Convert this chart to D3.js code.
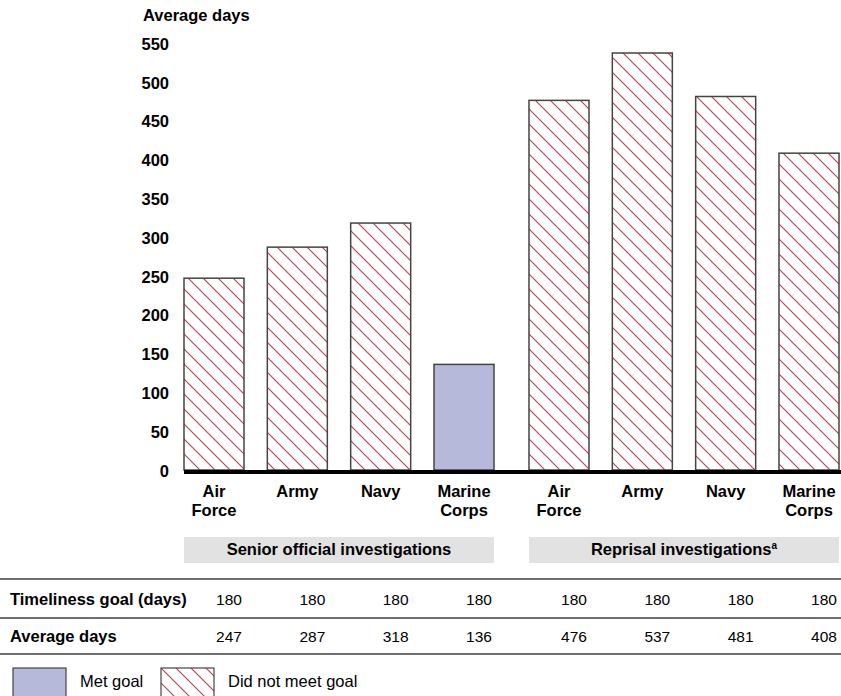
<!DOCTYPE html>
<html>
<head>
<meta charset="utf-8">
<title>Average days to complete investigations</title>
<style>
  body { margin: 0; background: #fff; }
  svg text { font-family: "Liberation Sans", Arial, sans-serif; }
</style>
</head>
<body>
<div id="chart"></div>

<script src="https://cdn.jsdelivr.net/npm/d3@7"></script>
<script>
// data
const groups = ["Senior official investigations", "Reprisal investigations"];
const services = ["Air Force", "Army", "Navy", "Marine Corps"];
const seniorDays = [247, 287, 318, 136];
const reprisalDays = [476, 537, 481, 408];
const seniorGoal = [180, 180, 180, 180];
const reprisalGoal = [180, 180, 180, 180];
const yTicks = [0, 50, 100, 150, 200, 250, 300, 350, 400, 450, 500, 550];

const W = 841, H = 696;
const BOLD = 16.5;

// flat rows, one per bar
const rows = [];
groups.forEach(function(g, gi) {
	const vals = gi === 0 ? seniorDays : reprisalDays;
	const goals = gi === 0 ? seniorGoal : reprisalGoal;
	services.forEach(function(s, i) {
		rows.push({ group: g, service: s, days: vals[i], goal: goals[i] });
	});
});

const svg = d3.select("#chart").append("svg")
	.attr("width", W)
	.attr("height", H);

// hatch pattern for "did not meet goal"
const defs = svg.append("defs");
defs.append("pattern")
	.attr("id", "hatch")
	.attr("patternUnits", "userSpaceOnUse")
	.attr("width", 15).attr("height", 15)
	.append("path")
	.attr("d", "M0,0L15,15M-4,11L4,19M11,-4L19,4")
	.attr("stroke", "#b8404f")
	.attr("stroke-width", 1.1)
	.attr("fill", "none");

//
// scales
//
const x0 = d3.scaleBand()
	.domain(groups)
	.range([184, 839])
	.paddingInner(0.1014);

const x1 = d3.scaleBand()
	.domain(services)
	.range([0, x0.bandwidth()])
	.paddingInner(0.28);

const y = d3.scaleLinear()
	.domain([0, 537])
	.range([470, 53]);

const barX = d => x0(d.group) + x1(d.service);
const barMid = d => barX(d) + x1.bandwidth() / 2;

// y axis title + labels
svg.append("text")
	.attr("x", 143).attr("y", 21)
	.attr("font-size", BOLD).attr("font-weight", "bold")
	.text("Average days");

const yAxis = d3.axisLeft(y).tickValues(yTicks).tickSize(0).tickPadding(0);
const yg = svg.append("g")
	.attr("transform", "translate(169,1)")
	.call(yAxis);
yg.select(".domain").remove();
yg.selectAll("text")
	.attr("font-size", BOLD)
	.attr("font-weight", "bold")
	.attr("fill", "#000")
	.style("font-family", "'Liberation Sans', Arial, sans-serif");

// bars
svg.selectAll("rect.bar")
	.data(rows)
	.join("rect")
	.attr("class", "bar")
	.attr("x", barX)
	.attr("width", x1.bandwidth())
	.attr("y", d => y(d.days))
	.attr("height", d => y(0) - y(d.days))
	.attr("fill", d => d.days <= d.goal ? "#b6b9d9" : "url(#hatch)")
	.attr("stroke", "#444")
	.attr("stroke-width", 1.5);

// baseline
svg.append("line")
	.attr("x1", x0(groups[0])).attr("x2", W)
	.attr("y1", y(0) + 2).attr("y2", y(0) + 2)
	.attr("stroke", "#000")
	.attr("stroke-width", 4);

// category labels
const cat = svg.selectAll("text.cat")
	.data(rows)
	.join("text")
	.attr("class", "cat")
	.attr("text-anchor", "middle")
	.attr("font-size", BOLD)
	.attr("font-weight", "bold")
	.attr("transform", d => "translate(" + barMid(d) + ",497)");
cat.selectAll("tspan")
	.data(d => d.service === "Army" || d.service === "Navy" ? [d.service] : d.service.split(" "))
	.join("tspan")
	.attr("x", 0)
	.attr("dy", (d, i) => i === 0 ? 0 : 19)
	.text(d => d);

// group bands
const band = svg.selectAll("g.band")
	.data(groups)
	.join("g")
	.attr("class", "band")
	.attr("transform", d => "translate(" + x0(d) + ",537)");
band.append("rect")
	.attr("width", x0.bandwidth())
	.attr("height", 26)
	.attr("fill", "#e2e2e2");
const bt = band.append("text")
	.attr("x", x0.bandwidth() / 2)
	.attr("y", 18)
	.attr("text-anchor", "middle")
	.attr("font-size", BOLD)
	.attr("font-weight", "bold")
	.text(d => d);
bt.filter((d, i) => i === 1)
	.append("tspan")
	.attr("font-size", 10)
	.attr("dy", -6)
	.text("a");

// table
[579, 618, 654].forEach(function(ly) {
	svg.append("line")
		.attr("x1", 0).attr("x2", W)
		.attr("y1", ly).attr("y2", ly)
		.attr("stroke", "#707070")
		.attr("stroke-width", 2);
});

const tableRows = [
	{ label: "Timeliness goal (days)", y: 605, val: d => d.goal },
	{ label: "Average days", y: 642, val: d => d.days }
];
tableRows.forEach(function(tr) {
	svg.append("text")
		.attr("x", 10).attr("y", tr.y)
		.attr("font-size", BOLD).attr("font-weight", "bold")
		.text(tr.label);
	svg.selectAll(null)
		.data(rows)
		.join("text")
		.attr("x", d => barMid(d) + 15)
		.attr("y", tr.y)
		.attr("text-anchor", "middle")
		.attr("font-size", 15.5)
		.text(tr.val);
});

// legend
const legend = [
	{ label: "Met goal", fill: "#b6b9d9", x: 13 },
	{ label: "Did not meet goal", fill: "url(#hatch)", x: 161 }
];
const lg = svg.selectAll("g.legend")
	.data(legend)
	.join("g")
	.attr("class", "legend")
	.attr("transform", d => "translate(" + d.x + ",668)");
lg.append("rect")
	.attr("width", 53).attr("height", 32)
	.attr("fill", d => d.fill)
	.attr("stroke", "#444")
	.attr("stroke-width", 1.2);
lg.append("text")
	.attr("x", 67).attr("y", 19)
	.attr("font-size", 16.5)
	.text(d => d.label);
</script>
</body>
</html>
